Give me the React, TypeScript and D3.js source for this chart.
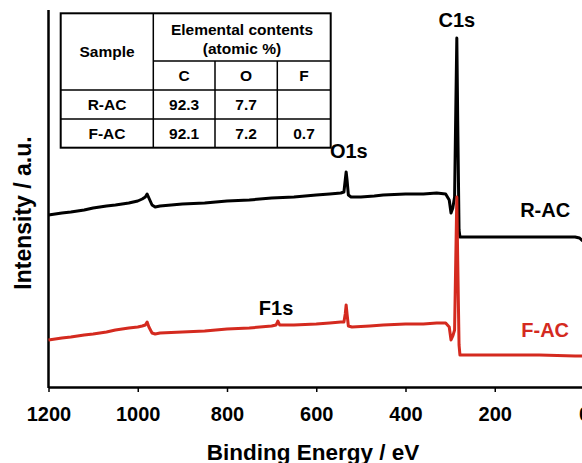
import { useEffect, useRef } from 'react';
import * as d3 from 'd3';

// spectrum points [binding energy eV, intensity a.u.]
const rAC: [number, number][] = [
  [1200, 172], [1170, 174], [1150, 175], [1120, 177], [1100, 179], [1070, 181], [1050, 182],
  [1020, 184], [1000, 186], [990, 188], [983, 190], [979, 193], [975, 189], [968, 182],
  [961, 180], [950, 181], [900, 183], [850, 184], [800, 186], [750, 187], [700, 189],
  [650, 190], [600, 192], [570, 193], [545, 194], [538, 195], [535, 207], [533, 215],
  [531, 207], [528, 192], [522, 190], [500, 190], [470, 191], [450, 192], [400, 193],
  [360, 193], [330, 194], [310, 193], [302, 187], [298, 174], [294, 179], [290, 190],
  [287, 287], [285, 349], [283, 267], [280, 157], [278, 150], [250, 150], [200, 150],
  [100, 150], [20, 150], [10, 149], [3, 146]
];

const fAC: [number, number][] = [
  [1200, 47], [1170, 49], [1150, 50], [1120, 52], [1100, 53], [1070, 55], [1050, 57],
  [1020, 59], [1000, 60], [990, 61], [983, 62], [979, 65], [975, 60], [968, 54],
  [961, 53], [950, 54], [900, 55], [850, 56], [800, 58], [750, 59], [700, 61],
  [690, 62], [686, 66], [682, 62], [650, 62], [600, 63], [570, 64], [545, 65],
  [538, 65], [535, 73], [533, 82], [531, 73], [528, 61], [520, 60], [480, 61],
  [450, 62], [400, 63], [360, 63], [330, 64], [310, 64], [302, 60], [298, 47],
  [294, 51], [290, 57], [287, 137], [285, 190], [283, 127], [280, 42], [278, 32],
  [250, 32], [200, 32], [100, 32], [20, 31], [0, 31]
];

const xTicks = [1200, 1000, 800, 600, 400, 200, 0];

const peakLabels = [
  { text: 'C1s', e: 285, i: 360 },
  { text: 'O1s', e: 527, i: 229 },
  { text: 'F1s', e: 690, i: 72 }
];

const seriesLabels = [
  { text: 'R-AC', e: 87, i: 170, color: '#000' },
  { text: 'F-AC', e: 87, i: 50, color: '#d42a1f' }
];

const tableCols = ['C', 'O', 'F'];
const tableRows = [
  ['R-AC', '92.3', '7.7', ''],
  ['F-AC', '92.1', '7.2', '0.7']
];

const App = () => {
  const svgRef = useRef<SVGSVGElement>(null);

  useEffect(() => {
    const svg = d3.select(svgRef.current);
    svg.selectAll('*').remove();

    const width = 582;
    const height = 463;
    const margin = { top: 10, left: 48.5, bottom: 387 };
    const font = '"Liberation Sans", Arial, sans-serif';

    const x = d3.scaleLinear().domain([1200, 0]).range([margin.left, 584]);
    const y = d3.scaleLinear().domain([0, 350]).range([margin.bottom, margin.bottom - 350]);

    svg.attr('width', width).attr('height', height);

    // axes
    const xAxis = svg.append('g')
      .attr('transform', `translate(0,${margin.bottom})`)
      .call(d3.axisBottom(x).tickValues(xTicks).tickSize(5).tickSizeOuter(0).tickFormat(d => `${d}`));
    xAxis.select('.domain').attr('stroke-width', 2.5);
    xAxis.selectAll('.tick line').attr('stroke-width', 1.5);
    xAxis.selectAll('text')
      .attr('font-family', font)
      .attr('font-size', 20)
      .attr('font-weight', 'bold')
      .attr('dy', null)
      .attr('y', 34);

    svg.append('line')
      .attr('x1', margin.left).attr('x2', margin.left)
      .attr('y1', margin.top).attr('y2', margin.bottom + 1)
      .attr('stroke', '#000').attr('stroke-width', 2.5);

    svg.append('text')
      .attr('x', 313).attr('y', 460)
      .attr('text-anchor', 'middle')
      .attr('font-family', font).attr('font-size', 22.5).attr('font-weight', 'bold')
      .text('Binding Energy / eV');

    svg.append('text')
      .attr('transform', 'translate(31,213) rotate(-90)')
      .attr('text-anchor', 'middle')
      .attr('font-family', font).attr('font-size', 23).attr('font-weight', 'bold')
      .text('Intensity / a.u.');

    // spectra
    const line = d3.line<[number, number]>()
      .x(d => x(d[0]))
      .y(d => y(d[1]));

    svg.append('path')
      .datum(rAC)
      .attr('d', line)
      .attr('fill', 'none').attr('stroke', '#000')
      .attr('stroke-width', 3).attr('stroke-linejoin', 'round');

    svg.append('path')
      .datum(fAC)
      .attr('d', line)
      .attr('fill', 'none').attr('stroke', '#d42a1f')
      .attr('stroke-width', 3).attr('stroke-linejoin', 'round');

    // peak labels
    peakLabels.forEach(p => {
      svg.append('text')
        .attr('x', x(p.e)).attr('y', y(p.i))
        .attr('text-anchor', 'middle')
        .attr('font-family', font).attr('font-size', 20).attr('font-weight', 'bold')
        .text(p.text);
    });

    seriesLabels.forEach(s => {
      svg.append('text')
        .attr('x', x(s.e)).attr('y', y(s.i))
        .attr('text-anchor', 'middle')
        .attr('fill', s.color)
        .attr('font-family', font).attr('font-size', 20).attr('font-weight', 'bold')
        .text(s.text);
    });

    // inset table
    const t = svg.append('g');
    const colX = [60.7, 153.3, 215, 277.3, 330.7];
    const rowY = [13.3, 61, 90, 119, 147.7];
    const stroke = (x1: number, y1: number, x2: number, y2: number, w = 1.5) =>
      t.append('line').attr('x1', x1).attr('y1', y1).attr('x2', x2).attr('y2', y2)
        .attr('stroke', '#000').attr('stroke-width', w);

    t.append('rect')
      .attr('x', colX[0]).attr('y', rowY[0])
      .attr('width', colX[4] - colX[0]).attr('height', rowY[4] - rowY[0])
      .attr('fill', '#fff').attr('stroke', '#000').attr('stroke-width', 2);
    stroke(colX[1], rowY[0], colX[1], rowY[4]);
    stroke(colX[2], rowY[1], colX[2], rowY[4]);
    stroke(colX[3], rowY[1], colX[3], rowY[4]);
    stroke(colX[1], rowY[1], colX[4], rowY[1]);
    stroke(colX[0], rowY[2], colX[4], rowY[2]);
    stroke(colX[0], rowY[3], colX[4], rowY[3]);

    const cell = (txt: string, cx: number, cy: number) =>
      t.append('text')
        .attr('x', cx).attr('y', cy)
        .attr('text-anchor', 'middle').attr('dominant-baseline', 'central')
        .attr('font-family', font).attr('font-size', 15.5).attr('font-weight', 'bold')
        .text(txt);

    cell('Sample', (colX[0] + colX[1]) / 2, (rowY[0] + rowY[2]) / 2);
    cell('Elemental contents', (colX[1] + colX[4]) / 2, 29);
    cell('(atomic %)', (colX[1] + colX[4]) / 2, 48);
    tableCols.forEach((c, i) => cell(c, (colX[i + 1] + colX[i + 2]) / 2, (rowY[1] + rowY[2]) / 2));
    tableRows.forEach((row, r) => {
      row.forEach((v, i) => cell(v, (colX[i] + colX[i + 1]) / 2, (rowY[r + 2] + rowY[r + 3]) / 2));
    });
  }, []);

  return (
    <svg ref={svgRef} style={{ position: 'absolute', left: 0, top: 0, background: '#fff' }} />
  );
};

export default App;
